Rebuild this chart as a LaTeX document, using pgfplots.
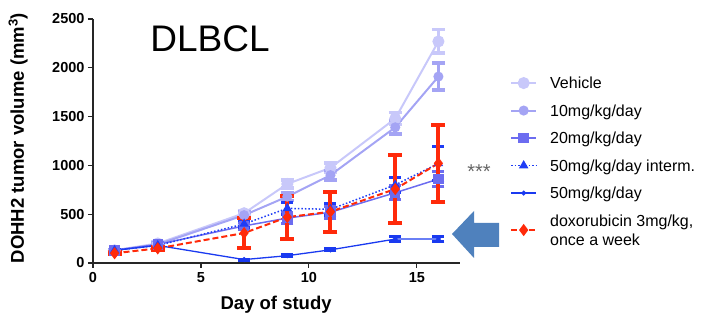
\documentclass[border=0pt]{standalone}
\usepackage{pgfplots}
\pgfplotsset{compat=1.18}
\usepackage{fontspec}
\setmainfont{Liberation Sans}
\definecolor{cveh}{HTML}{C8C8FA}
\definecolor{cten}{HTML}{A4A4F4}
\definecolor{ctwenty}{HTML}{6C6CF0}
\definecolor{cint}{HTML}{1F3DF5}
\definecolor{cfifty}{HTML}{1A3AF0}
\definecolor{cdoxo}{HTML}{FF2A0A}
\definecolor{carrow}{HTML}{4F81BD}
\begin{document}
\begin{tikzpicture}
\path[use as bounding box] (0,0) rectangle (703pt,320pt);
\begin{axis}[
  at={(93pt,57pt)}, anchor=south west,
  scale only axis, width=367pt, height=244pt,
  xmin=0, xmax=17, ymin=0, ymax=2500,
  axis lines=left, axis line style={-, line width=1.3pt, black!85},
  xtick={0,5,10,15}, ytick={0,500,1000,1500,2000,2500},
  tick align=outside, major tick length=5pt,
  tick style={line width=1.2pt, black!85},
  /pgf/number format/assume math mode=true,
  /pgf/number format/1000 sep={},
  tick label style={font=\bfseries\fontsize{14.5}{14.5}\selectfont},
  xticklabel style={yshift=-1pt},
  xlabel={Day of study},
  ylabel={DOHH2 tumor volume (mm\textsuperscript{3})},
  label style={font=\bfseries\fontsize{18.5}{18.5}\selectfont},
  xlabel style={at={(axis description cs:0.499,-0.172)}, anchor=center},
  ylabel style={at={(axis description cs:-0.204,0.512)}, anchor=center},
  clip=false,
  legend style={at={(axis description cs:1.128,0.785)}, anchor=north west,
    draw=none, fill=none, font=\fontsize{16}{19}\selectfont,
    row sep=8.7pt, column sep=11pt, cells={anchor=west, align=left}},
  legend image code/.code={\draw[mark repeat=2,mark phase=2] plot coordinates {(0pt,0pt) (12.5pt,0pt) (25pt,0pt)};},
  error bars/y dir=both, error bars/y explicit,
]
% Vehicle
\addplot[color=cveh, line width=2pt, mark=*, mark size=5pt,
  error bars/error bar style={line width=3.5pt},
  error bars/error mark options={rotate=90, mark size=6.5pt, line width=3.5pt}]
  coordinates {(1,130)+-(0,10) (3,200)+-(0,15) (7,510)+-(0,30) (9,810)+-(0,40) (11,975)+-(0,50) (14,1480)+-(0,60) (16,2270)+-(0,120)};
\addlegendentry{\strut Vehicle}
% 10mg
\addplot[color=cten, line width=2pt, mark=*, mark size=4pt,
  error bars/error bar style={line width=3.5pt},
  error bars/error mark options={rotate=90, mark size=6.5pt, line width=3.5pt}]
  coordinates {(1,130)+-(0,10) (3,190)+-(0,15) (7,490)+-(0,30) (9,680)+-(0,40) (11,900)+-(0,50) (14,1390)+-(0,70) (16,1910)+-(0,140)};
\addlegendentry{\strut 10mg/kg/day}
% 20mg
\addplot[color=ctwenty, line width=1.5pt, mark=square*, mark size=4.5pt,
  error bars/error bar style={line width=3pt},
  error bars/error mark options={rotate=90, mark size=6pt, line width=3pt}]
  coordinates {(1,130)+-(0,10) (3,190)+-(0,15) (7,380)+-(0,40) (9,460)+-(0,60) (11,520)+-(0,60) (14,720)+-(0,70) (16,860)+-(0,80)};
\addlegendentry{\strut 20mg/kg/day}
% 50mg interm
\addplot[color=cint, line width=1.5pt, dotted, mark=triangle*, mark size=4pt, mark options={solid},
  error bars/error bar style={line width=3pt, solid},
  error bars/error mark options={rotate=90, mark size=6pt, line width=3pt, solid}]
  coordinates {(1,130)+-(0,10) (3,180)+-(0,15) (7,400)+-(0,40) (9,560)+-(0,60) (11,550)+-(0,60) (14,800)+-(0,80) (16,1020)+-(0,170)};
\addlegendentry{\strut 50mg/kg/day interm.}
% 50mg
\addplot[color=cfifty, line width=1.3pt, mark=*, mark size=1.8pt,
  error bars/error bar style={line width=3pt},
  error bars/error mark options={rotate=90, mark size=6pt, line width=3pt}]
  coordinates {(1,130)+-(0,10) (3,180)+-(0,10) (7,35)+-(0,5) (9,75)+-(0,8) (11,135)+-(0,10) (14,245)+-(0,25) (16,245)+-(0,25)};
\addlegendentry{\strut 50mg/kg/day}
% doxorubicin
\addplot[color=cdoxo, line width=2pt, dash pattern=on 6pt off 3pt, mark=diamond*, mark size=4.5pt, mark options={solid},
  error bars/error bar style={line width=4pt, solid},
  error bars/error mark options={rotate=90, mark size=7pt, line width=4pt, solid}]
  coordinates {(1,100)+-(0,10) (3,150)+-(0,15) (7,307)+-(0,153) (9,470)+-(0,220) (11,525)+-(0,205) (14,758)+-(0,348) (16,1021)+-(0,393)};
\addlegendentry{\strut doxorubicin 3mg/kg,\\\strut once a week}
\end{axis}
\node[font=\fontsize{37}{37}\selectfont, anchor=base] at (210pt,268pt) {DLBCL};
\node[font=\fontsize{20}{20}\selectfont, text=black!60, anchor=base, inner sep=0pt] at (479pt,141pt) {***};
\fill[carrow] (452pt,86pt) -- (474pt,109pt) -- (474pt,97pt) -- (499pt,97pt) -- (499pt,73pt) -- (474pt,73pt) -- (474pt,62pt) -- cycle;
\end{tikzpicture}
\end{document}
